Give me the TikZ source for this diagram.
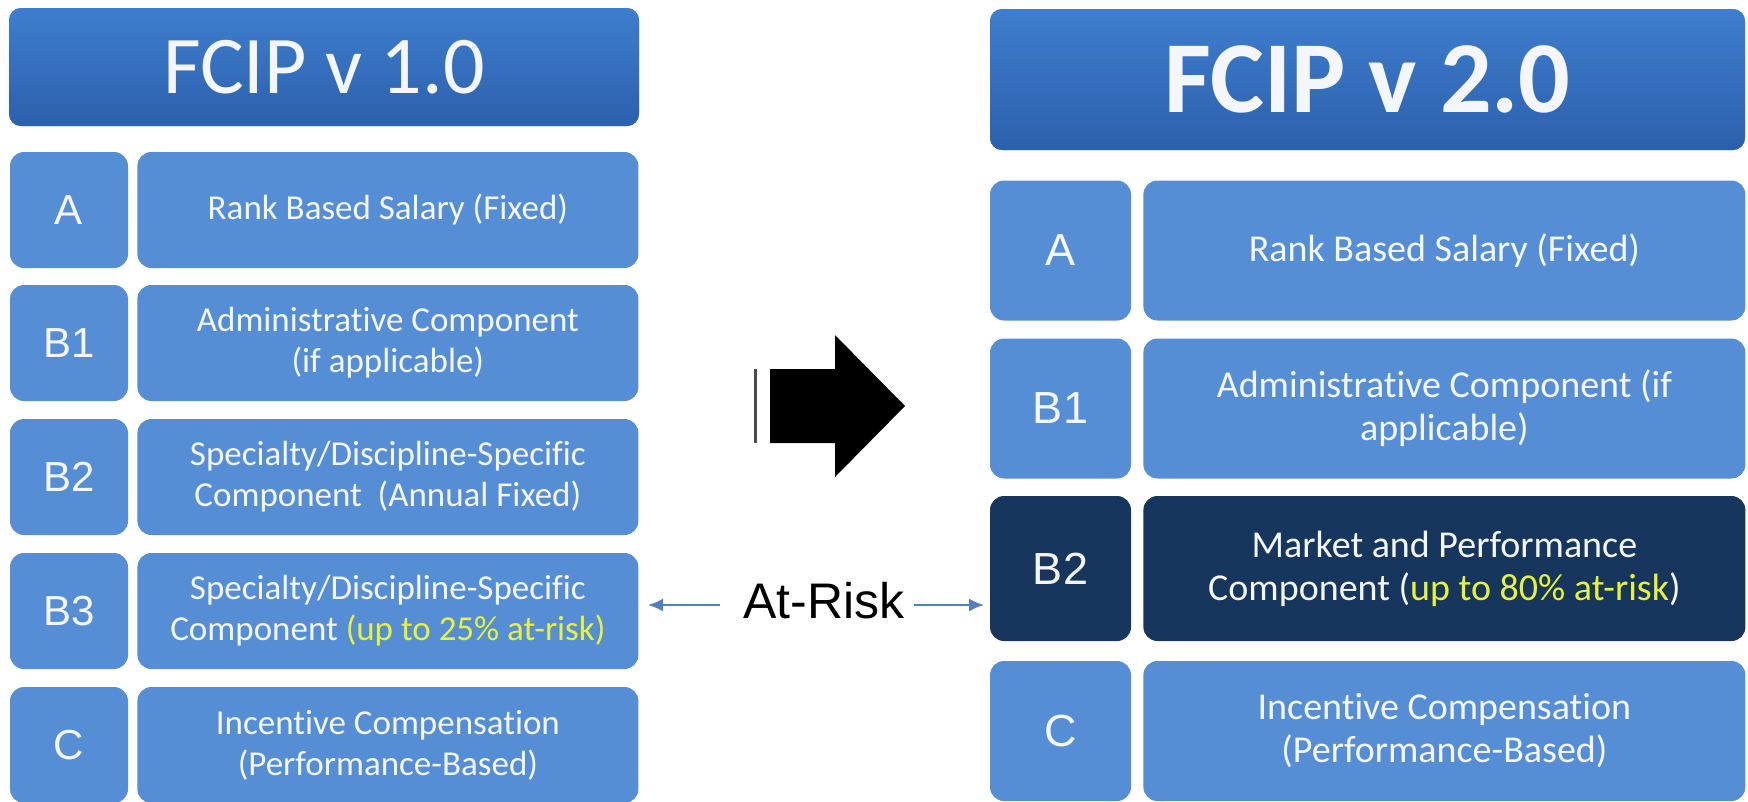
\documentclass[tikz,border=0pt]{standalone}
\usepackage{fontspec}
\setmainfont{Carlito}[RawFeature={-liga;-clig;-calt;-dlig}]
\newfontfamily\letterfont{Liberation Sans}
\usetikzlibrary{arrows.meta,positioning}
\definecolor{BoxClr}{RGB}{85,142,213}
\definecolor{DarkClr}{RGB}{23,54,93}
\definecolor{TitleTop}{RGB}{62,126,206}
\definecolor{TitleBot}{RGB}{44,96,172}
\definecolor{HiClr}{RGB}{232,242,58}
\definecolor{TxtClr}{RGB}{244,246,250}
\definecolor{RiskClr}{RGB}{79,129,189}

\tikzset{
  box/.style={rectangle,rounded corners=14pt,fill=BoxClr,inner sep=0pt,
    text=TxtClr,align=center},
  titlebox/.style={box,rounded corners=12pt,top color=TitleTop,bottom color=TitleBot},
  oldkey/.style={box,minimum width=118pt,minimum height=116pt,
    font=\letterfont\fontsize{42}{48}\selectfont},
  oldtxt/.style={box,minimum width=501pt,minimum height=116pt,right=9pt of #1,
    font=\fontsize{35}{41}\selectfont},
  newkey/.style={box,minimum width=141pt,minimum height=140pt,
    font=\letterfont\fontsize{45}{52}\selectfont},
  newtxt/.style={box,minimum width=602pt,minimum height=140pt,right=12pt of #1,
    font=\fontsize{38}{43}\selectfont},
  riskarrow/.style={RiskClr,line width=2pt,-{Latex[length=15pt,width=13pt]}}
}
\newcommand{\hi}[1]{\textcolor{HiClr}{#1}}

\begin{document}
\begin{tikzpicture}[x=1pt,y=-1pt]
\useasboundingbox (0,0) rectangle (1748,801);

% FCIP v 1.0
\node[titlebox,minimum width=630pt,minimum height=118pt,
  font=\fontsize{82}{90}\selectfont] (oldT) at (324,67) {FCIP v 1.0};

\node[oldkey] (oA)  at (69,210) {A};
\node[oldkey] (oB1) at (69,343) {B1};
\node[oldkey] (oB2) at (69,477) {B2};
\node[oldkey] (oB3) at (69,611) {B3};
\node[oldkey] (oC)  at (69,745) {C};

\node[oldtxt=oA]  (oAt)  {Rank Based Salary (Fixed)};
\node[oldtxt=oB1] (oB1t) {Administrative Component\\(if applicable)};
\node[oldtxt=oB2] (oB2t) {Specialty/Discipline-Specific\\Component \ (Annual Fixed)};
\node[oldtxt=oB3] (oB3t) {Specialty/Discipline-Specific\\Component \hi{(up to 25\% at-risk)}};
\node[oldtxt=oC]  (oCt)  {Incentive Compensation\\(Performance-Based)};

% FCIP v 2.0
\node[titlebox,minimum width=755pt,minimum height=141pt,
  font=\bfseries\fontsize{102}{110}\selectfont] (newT) at (1367.5,79.5) {FCIP v 2.0};

\node[newkey] (nA)  at (1060.5,250.5) {A};
\node[newkey] (nB1) at (1060.5,408.5) {B1};
\node[newkey,fill=DarkClr,minimum height=145pt] (nB2) at (1060.5,568.5) {B2};
\node[newkey] (nC)  at (1060.5,731) {C};

\node[newtxt=nA]  (nAt)  {Rank Based Salary (Fixed)};
\node[newtxt=nB1] (nB1t) {Administrative Component (if\\applicable)};
\node[newtxt=nB2,fill=DarkClr,minimum height=145pt] (nB2t)
  {Market and Performance\\Component (\hi{up to 80\% at-risk})};
\node[newtxt=nC]  (nCt)  {Incentive Compensation\\(Performance-Based)};

% big arrow
\draw[line width=3pt,black!70] (755.5,369) -- (755.5,443);
\fill[black] (770,369) -- (835,369) -- (835,335) -- (905,406)
  -- (835,477) -- (835,443) -- (770,443) -- cycle;

% at-risk
\node[inner sep=0pt,font=\letterfont\fontsize{50}{56}\selectfont] (risk) at (824,601) {At-Risk};
\coordinate (riskL) at (648,605);
\coordinate (riskR) at (984,605);
\draw[riskarrow] ([xshift=-23pt,yshift=-4pt]risk.west) -- (riskL);
\draw[riskarrow] ([xshift=9pt,yshift=-4pt]risk.east) -- (riskR);

\end{tikzpicture}
\end{document}
